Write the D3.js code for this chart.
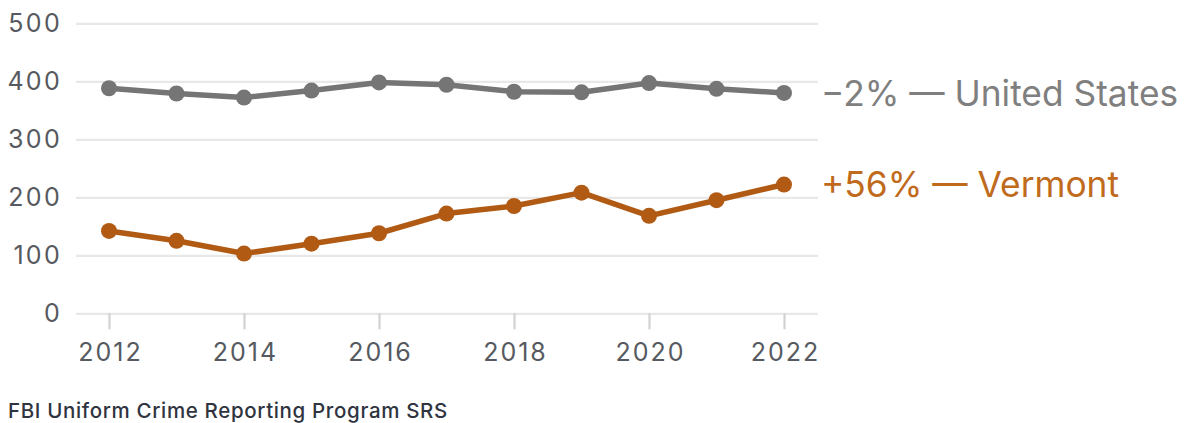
<!DOCTYPE html>
<html>
<head>
<meta charset="utf-8">
<script src="https://cdn.jsdelivr.net/npm/d3@7/dist/d3.min.js"></script>
<style>
  html, body { margin: 0; padding: 0; background: #fff; }
  svg { display: block; }
  text { font-family: Inter, "Noto Sans", sans-serif; }
</style>
</head>
<body>
<svg id="chart" width="1187" height="423"></svg>
<script>
// Violent crime rate per 100,000 residents, 2012–2022
const years = [2012, 2013, 2014, 2015, 2016, 2017, 2018, 2019, 2020, 2021, 2022];
const unitedStates = [388, 379, 372, 384, 398, 394, 382, 381, 397, 387, 380];
const vermont = [142, 125, 103, 120, 138, 172, 185, 208, 168, 195, 222];
const yTicks = [0, 100, 200, 300, 400, 500];
const xTicks = [2012, 2014, 2016, 2018, 2020, 2022];
const seriesLabels = ["\u22122% \u2014 United States", "+56% \u2014 Vermont"];
const sourceNote = "FBI Uniform Crime Reporting Program SRS";

const svg = d3.select("#chart");

const x = d3.scaleLinear().domain([2012, 2022]).range([109, 784]);
const y = d3.scaleLinear().domain([0, 500]).range([313.3, 23.3]);
const gridLeft = 76, gridRight = 818;

// horizontal gridlines with value labels on the left
const yAxis = d3.axisLeft(y).tickValues(yTicks).tickSize(0).tickPadding(14).tickFormat(d3.format("d"));
const gy = svg.append("g").attr("transform", `translate(${gridLeft},0)`).call(yAxis);
gy.select(".domain").remove();
gy.selectAll(".tick text")
  .attr("fill", "#565a60")
  .attr("font-size", 25)
  .attr("letter-spacing", 2.3)
  .attr("font-family", "Inter, sans-serif");
gy.selectAll(".tick").append("line")
  .attr("x1", 0).attr("x2", gridRight - gridLeft)
  .attr("stroke", "#e8e8e8").attr("stroke-width", 2.2);

// x axis: short ticks hanging below the zero line
const xAxis = d3.axisBottom(x).tickValues(xTicks).tickSize(16).tickPadding(14).tickFormat(d3.format("d"));
const gx = svg.append("g").attr("transform", `translate(0,${y(0)})`).call(xAxis);
gx.select(".domain").remove();
gx.selectAll(".tick line").attr("stroke", "#d2d2d2").attr("stroke-width", 2.2);
gx.selectAll(".tick text")
  .attr("fill", "#565a60")
  .attr("font-size", 25)
  .attr("letter-spacing", 2)
  .attr("dx", 1)
  .attr("font-family", "Inter, sans-serif");

const line = d3.line().x((d, i) => x(years[i])).y(d => y(d));

const series = [
  { values: unitedStates, color: "#757575", labelColor: "#7f7f7f", label: seriesLabels[0] },
  { values: vermont, color: "#b05a14", labelColor: "#c06a1c", label: seriesLabels[1] }
];

series.forEach(s => {
  svg.append("path")
    .datum(s.values)
    .attr("d", line)
    .attr("fill", "none")
    .attr("stroke", s.color)
    .attr("stroke-width", 5.5)
    .attr("stroke-linejoin", "round");
  svg.append("g").selectAll("circle")
    .data(s.values)
    .join("circle")
    .attr("cx", (d, i) => x(years[i]))
    .attr("cy", d => y(d))
    .attr("r", 8)
    .attr("fill", s.color);
  const last = s.values[s.values.length - 1];
  svg.append("text")
    .attr("x", 821)
    .attr("y", y(last))
    .attr("dy", "0.36em")
    .attr("fill", s.labelColor)
    .attr("font-size", 35.3)
    .text(s.label);
});

svg.append("text")
  .attr("x", 8)
  .attr("y", 418)
  .attr("fill", "#2f3440")
  .attr("font-size", 20.5)
  .attr("font-weight", 500)
  .attr("letter-spacing", 0.65)
  .text(sourceNote);
</script>
</body>
</html>
